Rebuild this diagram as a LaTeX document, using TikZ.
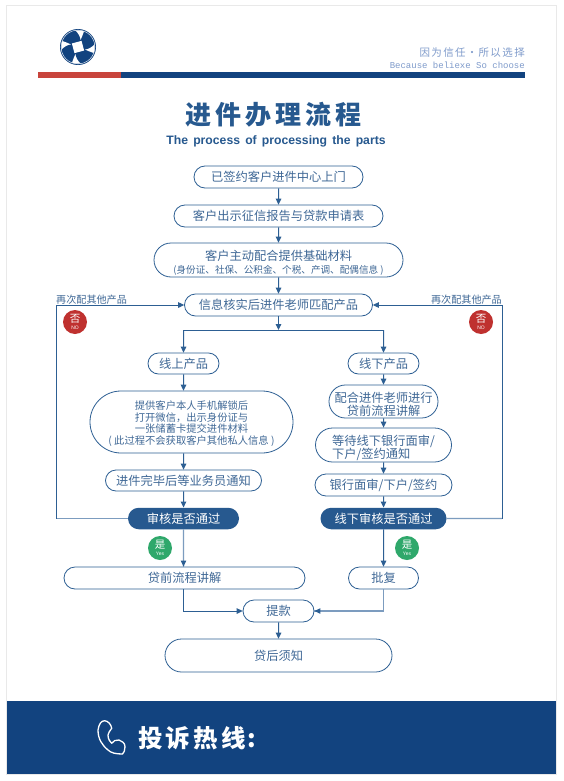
\documentclass[tikz,border=0pt]{standalone}
\usepackage{fontspec}
\setmainfont{Noto Sans CJK SC}
\newfontfamily\arialf{Liberation Sans}
\newfontfamily\monof{Liberation Mono}
\usetikzlibrary{shapes.misc,arrows.meta}
\definecolor{linec}{HTML}{2D5F93}
\definecolor{lightl}{HTML}{7C9CBF}
\definecolor{textc}{HTML}{3F6896}
\definecolor{fillc}{HTML}{27598F}
\definecolor{navy}{HTML}{12437F}
\definecolor{redbar}{HTML}{C8443C}
\definecolor{redb}{HTML}{BF312F}
\definecolor{greenb}{HTML}{2FA86B}
\definecolor{slogan}{HTML}{7F9BCB}
\definecolor{framec}{HTML}{E9E9E9}
\newcommand\fs[1]{\fontsize{#1}{#1}\selectfont\lineskiplimit=-100pt\relax}
\newcommand\tg{\hskip4pt}
\newcommand\sg{\hskip1.4pt}
\newcommand\fg{\hskip3.2pt}
\newcommand\wg{\hskip5.2pt}
\tikzset{
  x=1pt,y=-1pt,
  pill/.style={rounded rectangle,draw=linec,line width=.8pt,text=textc,inner sep=0pt,fill=white,font=\fs{12.25},align=center},
  darkpill/.style={rounded rectangle,fill=fillc,text=white,inner sep=0pt,font=\fs{12.25},align=center,minimum height=21.5pt},
  conn/.style={draw=linec,line width=1pt,-{Triangle[length=6pt,width=5.6pt]}},
  connl/.style={draw=lightl,line width=1.3pt},
  plain/.style={draw=linec,line width=1pt},
  badge/.style={circle,inner sep=0pt,minimum size=24pt,text=white,align=center},
  side/.style={text=textc,font=\fs{10.1},inner sep=0pt},
}
\begin{document}
\begin{tikzpicture}
\useasboundingbox (0,0) rectangle (563,781);
\fill[white] (0,0) rectangle (563,781);
\draw[framec,line width=1pt,fill=white] (6.5,5.5) rectangle (556,774);
% header
\fill[navy] (6.5,701) rectangle (555.5,773.5);
\fill[redbar] (38,72) rectangle (121,78);
\fill[navy] (121,72) rectangle (524.5,78);
% logo
\begin{scope}[shift={(78,47)}]
  \fill[navy] (0,0) circle (18);
  \draw[white,line width=.4pt] (0,0) circle (16.9);
  \fill[white,rotate=15] (-5,-5) rectangle (5,5);
  \foreach \a in {0,90,180,270}{
    \begin{scope}[rotate=\a]
      \fill[white] (-2.7,-16.6) .. controls (0,-16.9) and (3,-16.6) .. (6,-15.6) .. controls (5,-13) and (4,-10) .. (2.6,-7) .. controls (2.4,-10) and (0,-14.5) .. (-2.7,-16.6) -- cycle;
    \end{scope}
  }
\end{scope}
\node[anchor=east,text=slogan,font=\fs{10.5},inner sep=0pt] (s1) at (525,53) {因\sg 为\sg 信\sg 任\hskip1.2pt·\hskip1.2pt 所\sg 以\sg 选\sg 择};
\node[anchor=east,text=slogan,font=\monof\fs{9},inner sep=0pt] (s2) at (525,65) {Because beliexe So choose};
% title
\node[text=fillc,font=\fs{26}\bfseries,inner sep=0pt] (title) at (273.5,115) {进\tg 件\tg 办\tg 理\tg 流\tg 程};
\node[text=fillc,font=\arialf\bfseries\fs{12.2},inner sep=0pt] (sub) at (276,141) {The\wg process\wg of\wg processing\wg the\wg parts};
% center nodes
\node[pill,minimum width=169pt,minimum height=22pt] (n1) at (278.5,177) {已签约客户进件中心上门};
\node[pill,minimum width=209pt,minimum height=22pt] (n2) at (278.5,216) {客户出示征信报告与贷款申请表};
\node[pill,minimum width=249pt,minimum height=34pt] (n3) at (278.5,260) {\rule{0pt}{16pt}客户主动配合提供基础材料\\[1.2pt]{\fs{9.6}(身份证、社保、公积金、个税、产调、配偶信息 )}};
\node[pill,minimum width=188pt,minimum height=22pt] (n4) at (278.5,305) {信息核实后进件老师匹配产品};
% left column
\node[pill,minimum width=71pt,minimum height=21pt] (on) at (183.5,363.5) {线上产品};
\node[pill,minimum width=203pt,minimum height=62pt,font=\fs{10.3}] (b) at (191.5,422) {\rule{0pt}{12pt}提供客户本人手机解锁后\\[1.2pt]打开微信，出示身份证与\\[1.2pt]一张储蓄卡提交进件材料\\[1.2pt]( 此过程不会获取客户其他私人信息 )};
\node[pill,minimum width=156pt,minimum height=21pt] (c) at (183.5,480.5) {进件完毕后等业务员通知};
\node[darkpill,minimum width=111pt] (a1) at (183.5,518.5) {审核是否通过};
\node[pill,minimum width=241pt,minimum height=22pt] (loan) at (184.5,578) {贷前流程讲解};
% right column
\node[pill,minimum width=71pt,minimum height=21pt] (off) at (383.5,363.5) {线下产品};
\node[pill,rectangle,rounded corners=16.4pt,minimum width=109pt,minimum height=33pt] (r1) at (383.5,401.5) {\rule{0pt}{17pt}配合进件老师进行\\[.75pt]贷前流程讲解};
\node[pill,minimum width=136pt,minimum height=34pt,align=left] (r2) at (383.5,445) {\rule{0pt}{17pt}等待线下银行面审/\\[.75pt]下户/签约通知};
\node[pill,minimum width=137pt,minimum height=22pt] (r3) at (383.5,485) {银行面审/下户/签约};
\node[darkpill,minimum width=126pt] (a2) at (383.5,518.5) {线下审核是否通过};
\node[pill,minimum width=70pt,minimum height=22pt] (ap) at (383.5,578) {批复};
% bottom
\node[pill,minimum width=71pt,minimum height=22pt] (tk) at (278.5,611) {提款};
\node[pill,minimum width=227pt,minimum height=33pt] (af) at (278.5,655.5) {贷后须知};
% connectors
\draw[conn] (n1) -- (n2);
\draw[conn] (n2) -- (n3);
\draw[conn] (n3) -- (n4);
\coordinate (br) at (278.5,330);
\coordinate (lc) at (56,518.5);
\coordinate (rc) at (502,518.5);
\draw[conn] (n4) -- (br);
\draw[conn] (on |- br) -- (on);
\draw[conn] (off |- br) -- (off);
\draw[plain] (on |- br) -- (off |- br);
\draw[conn] (on) -- (on |- b.north);
\draw[conn] (on |- b.south) -- (c);
\draw[conn] (c) -- (a1);
\draw[conn] (off) -- (r1);
\draw[conn] (r1) -- (r2);
\draw[conn] (r2) -- (r3);
\draw[conn] (r3) -- (a2);
\draw[connl] (a1) -- (lc);
\draw[connl] (a2) -- (rc);
\draw[conn] (lc) |- (n4.west);
\draw[conn] (rc) |- (n4.east);
\draw[connl] (a1) -- (a1 |- loan.north);
\fill[linec] (a1 |- loan.north) -- ++(-2.8,-6) -- ++(5.6,0) -- cycle;
\draw[conn] (a2) -- (ap);
\draw[conn] (a1 |- loan.south) |- (tk.west);
\draw[connl] (ap) |- (tk.east);
\fill[linec] (tk.east) -- ++(6,-2.8) -- ++(0,5.6) -- cycle;
\draw[conn] (tk) -- (af);
% side labels and badges
\node[side,anchor=west] (l1) at (56,300) {再次配其他产品};
\node[side,anchor=east] (l2) at (502,300) {再次配其他产品};
\node[badge,fill=redb,font=\fs{10.5}] (no1) at (75,322) {否\\[-4pt]{\arialf\fs{5}NO}};
\node[badge,fill=redb,font=\fs{10.5}] (no2) at (481,322) {否\\[-4pt]{\arialf\fs{5}NO}};
\node[badge,fill=greenb,font=\fs{10.5}] (y1) at (160,548) {是\\[-4pt]{\arialf\fs{5}Yes}};
\node[badge,fill=greenb,font=\fs{10.5}] (y2) at (407,548) {是\\[-4pt]{\arialf\fs{5}Yes}};
% footer
\draw[white,line width=1.3pt,line join=round] (98,730) .. controls (99,724) and (101,721) .. (104.5,720.7) .. controls (108,721) and (111,724) .. (111.7,728.3) .. controls (110,731) and (108,733) .. (108,735) .. controls (108,739) and (110,742) .. (111.7,743.3) .. controls (113,741) and (116,739.5) .. (119,740) .. controls (122,741) and (125,743) .. (125,746.7) .. controls (125,750) and (124,753) .. (122.5,754) .. controls (116,754) and (111,753) .. (108,750) .. controls (102,745) and (98,739) .. (98,730) -- cycle;
\node[anchor=west,text=white,font=\fs{24.5}\bfseries,inner sep=0pt] (hot) at (138,738) {投\fg 诉\fg 热\fg 线\hskip2pt:};
\end{tikzpicture}
\end{document}
